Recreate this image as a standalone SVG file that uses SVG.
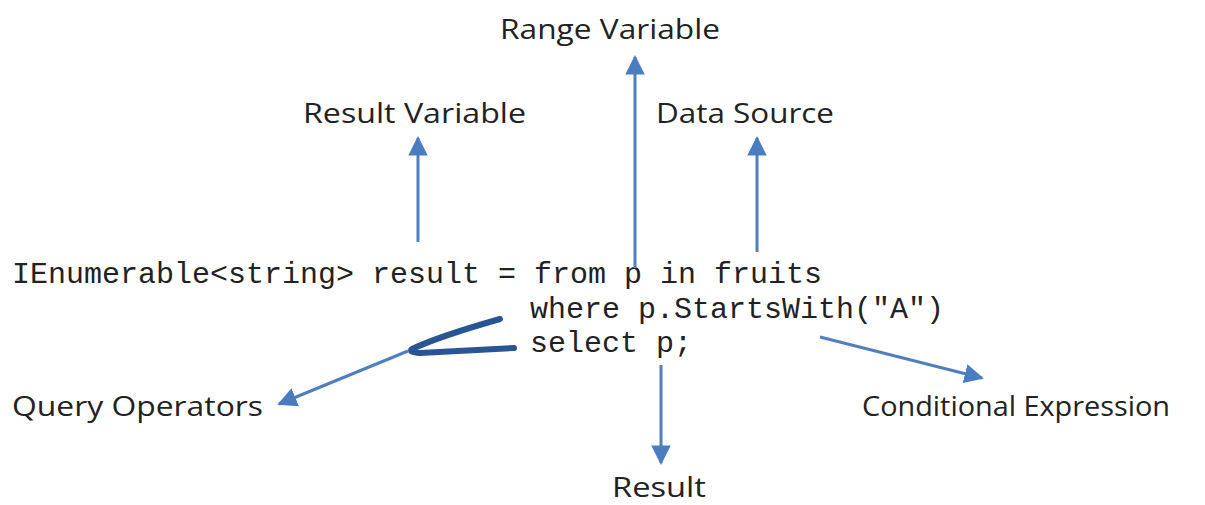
<svg xmlns="http://www.w3.org/2000/svg" width="1205" height="505" viewBox="0 0 1205 505">
  <defs>
    <marker id="head" viewBox="0 0 10 10" refX="9" refY="5" markerWidth="6.5" markerHeight="6.5" markerUnits="strokeWidth" orient="auto">
      <path d="M0,0 L10,5 L0,10 Z" fill="#4a7cc0"/>
    </marker>
  </defs>
  <style>
    .label { font-family: "Open Sans", "Noto Sans", sans-serif; font-size: 27px; fill: #222; }
    .code { font-family: "Liberation Mono", "Courier New", monospace; font-size: 30px; fill: #222; }
    .arrow { stroke: #4f7fbf; stroke-width: 3; fill: none; marker-end: url(#head); }
    .brace { stroke: #2a5594; stroke-width: 6; fill: none; stroke-linecap: round; stroke-linejoin: round; }
  </style>
  <rect width="1205" height="505" fill="#ffffff"/>

  <!-- LINQ query expression -->
  <g id="code">
    <text class="code" x="12" y="283" textLength="810" lengthAdjust="spacingAndGlyphs">IEnumerable&lt;string&gt; result = from p in fruits</text>
    <text class="code" x="530" y="318" textLength="414" lengthAdjust="spacingAndGlyphs">where p.StartsWith("A")</text>
    <text class="code" x="530" y="352" textLength="162" lengthAdjust="spacingAndGlyphs">select p;</text>
  </g>

  <!-- annotation labels -->
  <g id="range-variable"><text class="label" x="500" y="39" textLength="220" lengthAdjust="spacingAndGlyphs">Range Variable</text></g>
  <g id="result-variable"><text class="label" x="303" y="123" textLength="223" lengthAdjust="spacingAndGlyphs">Result Variable</text></g>
  <g id="data-source"><text class="label" x="656" y="123" textLength="178" lengthAdjust="spacingAndGlyphs">Data Source</text></g>
  <g id="query-operators"><text class="label" x="12" y="416" textLength="251" lengthAdjust="spacingAndGlyphs">Query Operators</text></g>
  <g id="conditional-expression"><text class="label" x="862" y="416" textLength="308" lengthAdjust="spacingAndGlyphs">Conditional Expression</text></g>
  <g id="result"><text class="label" x="612" y="497" textLength="94" lengthAdjust="spacingAndGlyphs">Result</text></g>

  <!-- connectors -->
  <g id="connectors">
    <line class="arrow" x1="635" y1="268" x2="635" y2="57"/>
    <line class="arrow" x1="418" y1="242" x2="418" y2="138"/>
    <line class="arrow" x1="757" y1="252" x2="757" y2="138"/>
    <line class="arrow" x1="661" y1="365" x2="661" y2="463"/>
    <line class="arrow" x1="820" y1="337" x2="982" y2="378"/>
    <line class="arrow" x1="408" y1="351" x2="279" y2="404"/>
    <path class="brace" d="M500,319 Q440,336 412,349 Q408,352 420,353 L514,348"/>
  </g>
</svg>
